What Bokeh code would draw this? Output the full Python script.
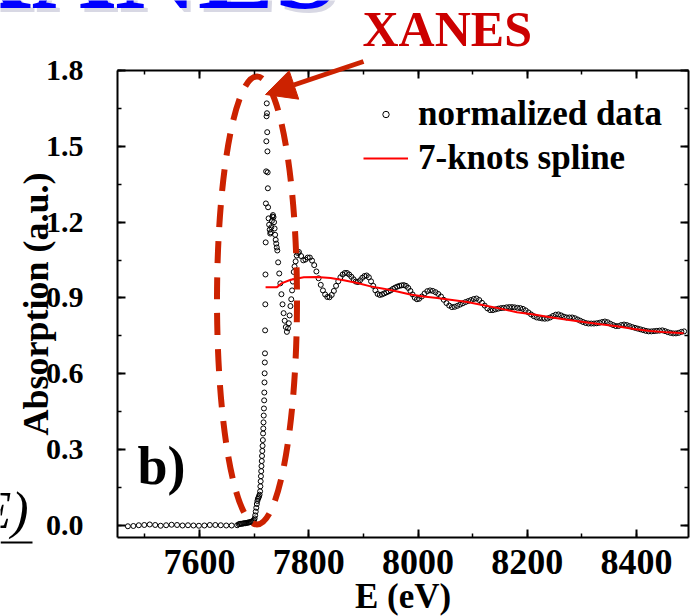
import math
from bokeh.plotting import figure
from bokeh.models import (Range1d, LinearAxis, SingleIntervalTicker, Label, Arrow,
                          NormalHead, Legend, LegendItem, PrintfTickFormatter,
                          ColumnDataSource)
from bokeh.embed import file_html
from bokeh.resources import INLINE

# ---------------- data ----------------
pre_e = [7469, 7479, 7489, 7499, 7509, 7519, 7529, 7539, 7549, 7559, 7569,
         7579, 7589, 7599, 7609, 7619, 7629, 7639, 7649, 7659, 7669]
pre_mu = [-0.003, -0.002, 0.001, 0.002, 0.004, 0.002, -0.001, 0.001, 0.003, 0.002, 0.000,
          0.001, 0.000, -0.001, 0.000, 0.002, 0.002, 0.001, 0.000, 0.000, 0.001]

blob_e = [7672, 7674, 7676, 7678, 7680, 7682, 7684, 7686, 7688, 7690, 7692, 7694, 7696, 7698, 7700]
blob_mu = [0.005, 0.006, 0.007, 0.007, 0.008, 0.009, 0.009, 0.010, 0.011, 0.012, 0.013, 0.014,
           0.016, 0.018, 0.021]

edge_e = [7701, 7702, 7703, 7704, 7705, 7706, 7707, 7708, 7709, 7710, 7711,
          7711.5, 7712, 7712.5, 7713, 7713.5, 7714, 7714.5, 7715, 7715.5, 7716,
          7716.4, 7716.8, 7717.2, 7717.6, 7718, 7718.4,
          7718.7, 7719, 7719.3, 7719.6, 7719.9, 7720.2, 7720.5, 7720.8,
          7721.2, 7721.6, 7722.0, 7722.4, 7722.8, 7723.2, 7723.6, 7724.0, 7724.4, 7724.8, 7725.2, 7725.6,
          7726.5, 7727.5, 7728.5, 7729.5, 7730.5, 7731.5, 7732.5, 7733.5, 7734.5, 7735.5, 7736.5,
          7737.5, 7738.5, 7739.5, 7740.5, 7741.5, 7742.5,
          7744, 7746, 7748, 7750, 7752, 7754, 7756, 7758, 7760, 7762,
          7763.5, 7765, 7766.5, 7768, 7769.5, 7771, 7772.5,
          7774, 7776, 7778, 7780, 7782]
edge_mu = [0.028, 0.040, 0.055, 0.070, 0.085, 0.097, 0.105, 0.110, 0.115, 0.122, 0.135,
           0.155, 0.175, 0.195, 0.215, 0.235, 0.255, 0.275, 0.295, 0.315, 0.338,
           0.364, 0.384, 0.408, 0.435, 0.463, 0.495,
           0.526, 0.566, 0.602, 0.645, 0.681, 0.772, 0.875, 0.993,
           1.120, 1.274, 1.401, 1.520, 1.619, 1.670, 1.631, 1.556, 1.480, 1.397, 1.334, 1.259,
           1.215, 1.190, 1.170, 1.155, 1.160, 1.180, 1.205, 1.222, 1.228, 1.220, 1.200,
           1.175, 1.150, 1.130, 1.115, 1.100, 1.088,
           1.041, 0.997, 0.958, 0.915, 0.875, 0.840, 0.810, 0.785, 0.766, 0.780,
           0.800, 0.831, 0.868, 0.895, 0.930, 0.965, 1.003,
           1.025, 1.045, 1.068, 1.078, 1.082]

exafs_e = [7786, 7790, 7794, 7798, 7802, 7806, 7810, 7814, 7818, 7822,
           7826, 7830, 7834, 7838, 7842, 7846, 7850, 7854, 7858, 7862,
           7866, 7870, 7874, 7878, 7882, 7886, 7890, 7894, 7898, 7902,
           7906, 7910, 7914, 7918, 7922, 7926, 7930, 7934, 7938, 7942,
           7946, 7950, 7954, 7958, 7962, 7966, 7970, 7974, 7978, 7982,
           7986, 7990, 7994, 7998,
           8002, 8007, 8012, 8017, 8022, 8027, 8032, 8037, 8042, 8047,
           8052, 8057, 8062, 8067, 8072, 8077, 8082, 8087, 8092, 8097,
           8102, 8107, 8112, 8117, 8122, 8127, 8132, 8137, 8142, 8147,
           8152, 8157, 8162, 8167, 8172, 8177, 8182, 8187, 8192, 8197,
           8202, 8207, 8212, 8217, 8222, 8227, 8232, 8237, 8242, 8247,
           8252, 8257, 8262, 8267, 8272, 8277, 8282, 8287, 8292, 8297,
           8302, 8307, 8312, 8317, 8322, 8327, 8332, 8337, 8342, 8347,
           8352, 8357, 8362, 8367, 8372, 8377, 8382, 8387, 8392, 8397,
           8402, 8407, 8412, 8417, 8422, 8427, 8432, 8437, 8442, 8447,
           8452, 8457, 8462, 8467, 8472, 8477, 8482, 8487]
exafs_mu = [1.066, 1.049, 1.052, 1.060, 1.060, 1.048, 1.030, 1.005, 0.978, 0.952,
            0.930, 0.914, 0.904, 0.903, 0.912, 0.928, 0.948, 0.966, 0.982, 0.993,
            0.999, 0.999, 0.993, 0.984, 0.974, 0.965, 0.963, 0.970, 0.980, 0.987,
            0.989, 0.982, 0.966, 0.948, 0.930, 0.916, 0.912, 0.914, 0.918, 0.922,
            0.926, 0.930, 0.936, 0.941, 0.945, 0.948, 0.950, 0.951, 0.948, 0.940,
            0.928, 0.914, 0.901, 0.895,
            0.897, 0.906, 0.918, 0.927, 0.930, 0.928, 0.923, 0.916, 0.906, 0.893,
            0.880, 0.870, 0.864, 0.865, 0.869, 0.874, 0.879, 0.884, 0.888, 0.892,
            0.896, 0.898, 0.892, 0.881, 0.870, 0.859, 0.852, 0.852, 0.855, 0.858,
            0.860, 0.861, 0.863, 0.864, 0.864, 0.863, 0.861, 0.860, 0.857, 0.851,
            0.843, 0.835, 0.828, 0.823, 0.821, 0.819, 0.818, 0.819, 0.823, 0.829,
            0.834, 0.835, 0.831, 0.826, 0.823, 0.823, 0.823, 0.820, 0.815, 0.810,
            0.805, 0.801, 0.799, 0.799, 0.799, 0.800, 0.802, 0.805, 0.807, 0.804,
            0.798, 0.793, 0.789, 0.789, 0.793, 0.795, 0.793, 0.789, 0.785, 0.782,
            0.779, 0.776, 0.773, 0.770, 0.768, 0.768, 0.769, 0.770, 0.771, 0.772,
            0.769, 0.765, 0.762, 0.760, 0.760, 0.762, 0.766, 0.768]

spline_e = [7721, 7742, 7751, 7767, 7791, 7815, 7840, 7864, 7889, 7913, 7937, 7962,
            7986, 8010, 8035, 8059, 8090, 8120, 8151, 8181, 8212, 8242, 8273, 8303,
            8334, 8364, 8395, 8425, 8456, 8486]
spline_mu = [0.943, 0.943, 0.959, 0.972, 0.982, 0.983, 0.979, 0.970, 0.959, 0.946, 0.937, 0.926,
             0.914, 0.906, 0.900, 0.893, 0.884, 0.871, 0.858, 0.844, 0.835, 0.824, 0.814, 0.805,
             0.796, 0.788, 0.777, 0.769, 0.764, 0.761]

# axis extents of the framed data box and tick spacing
X0, X1 = 7450, 8495
Y0, Y1 = -0.0475, 1.8
x_tick_interval = 200
y_tick_interval = 0.3

# ---------------- layout geometry ----------------
W, H = 693, 616
BOX_L, BOX_R, BOX_T, BOX_B = 117, 688, 70, 537
sx = (X1 - X0) / (BOX_R - BOX_L)
sy = (Y1 - Y0) / (BOX_B - BOX_T)


def dx(px):
    """screen x (pixels from the left) -> data x"""
    return X0 + (px - BOX_L) * sx


def dy(py):
    """screen y (pixels from the top) -> data y"""
    return Y0 + (BOX_B - py) * sy


SERIF = "Liberation Serif"
RED = "#cc2200"

p = figure(width=W, height=H, output_backend="svg", toolbar_location=None,
           x_range=Range1d(dx(0), dx(W)), y_range=Range1d(dy(H), dy(0)),
           min_border=0, min_border_left=0, min_border_right=0,
           min_border_top=0, min_border_bottom=0,
           background_fill_color="white", border_fill_color="white")
p.xgrid.visible = False
p.ygrid.visible = False
p.outline_line_color = None

xt = SingleIntervalTicker(interval=x_tick_interval, num_minor_ticks=2)
yt = SingleIntervalTicker(interval=y_tick_interval, num_minor_ticks=2)


def style_axis(ax, ticker, bounds, loc, show_labels, font_size="30px", standoff=10):
    ax.ticker = ticker
    ax.bounds = bounds
    ax.fixed_location = loc
    ax.axis_line_width = 2
    ax.axis_line_color = "black"
    ax.major_tick_in = 8
    ax.major_tick_out = 0
    ax.minor_tick_in = 4
    ax.minor_tick_out = 0
    ax.major_tick_line_width = 2
    ax.minor_tick_line_width = 1.5
    ax.major_label_text_font = SERIF
    ax.major_label_text_font_style = "bold"
    if show_labels:
        ax.major_label_text_color = "black"
        ax.major_label_text_font_size = font_size
        ax.major_label_standoff = standoff
    else:
        ax.major_label_text_color = None
        ax.major_label_standoff = 0


bx = p.xaxis[0]
style_axis(bx, xt, (X0, X1), Y0, True, "36px", 12)
bx.axis_label = "E (eV)"
bx.axis_label_text_font = SERIF
bx.axis_label_text_font_style = "bold"
bx.axis_label_text_font_size = "35px"
bx.axis_label_text_color = "black"
bx.axis_label_standoff = 0

ly = p.yaxis[0]
style_axis(ly, yt, (Y0, Y1), X0, True, "30px", 34)
ly.formatter = PrintfTickFormatter(format="%.1f")
ly.axis_label = "Absorption (a.u.)"
ly.axis_label_text_font = SERIF
ly.axis_label_text_font_style = "bold"
ly.axis_label_text_font_size = "36px"
ly.axis_label_text_color = "black"
ly.axis_label_standoff = -13

top_ax = LinearAxis()
style_axis(top_ax, xt, (X0, X1), Y1, False)
p.add_layout(top_ax, "above")
right_ax = LinearAxis()
style_axis(right_ax, yt, (Y0, Y1), X1, False)
p.add_layout(right_ax, "right")

# ---------------- glyphs ----------------
all_e = pre_e + blob_e + edge_e + exafs_e
all_mu = pre_mu + blob_mu + edge_mu + exafs_mu
src = ColumnDataSource(dict(e=all_e, mu=all_mu))
r_data = p.scatter("e", "mu", source=src, marker="circle", size=5,
                   fill_color=None, line_color="black", line_width=1)
r_spline = p.line(spline_e, spline_mu, line_color="#ff0000", line_width=2)

# dashed ellipse marking the XANES region
p.ellipse(x=[dx(256.5)], y=[dy(300)], width=[80 * sx], height=[448 * sy], fill_color=None,
          line_color=RED, line_width=6, line_dash="22 14")

# ---------------- legend ----------------
legend = Legend(items=[LegendItem(label="normalized data", renderers=[r_data]),
                       LegendItem(label="7-knots spline", renderers=[r_spline])],
                location=(363, H - 180), orientation="vertical", padding=0, margin=0,
                spacing=0, glyph_width=45, glyph_height=16, label_height=44,
                label_standoff=10, label_text_font=SERIF, label_text_font_style="bold",
                label_text_font_size="35px", label_text_color="black",
                label_text_baseline="middle", border_line_color=None,
                background_fill_alpha=0)
p.add_layout(legend)

# ---------------- texts / annotations ----------------
p.add_layout(Label(x=dx(137), y=dy(465), text="b)", text_align="left",
                   text_baseline="middle", text_font=SERIF, text_font_style="bold",
                   text_font_size="54px", text_color="black"))
p.add_layout(Label(x=dx(362), y=dy(28), text="XANES", text_align="left",
                   text_baseline="middle", text_font=SERIF, text_font_style="bold",
                   text_font_size="50px", text_color="#cc0000"))
p.add_layout(Arrow(end=NormalHead(size=30, fill_color=RED, line_color=RED),
                   x_start=dx(363), y_start=dy(61), x_end=dx(265), y_end=dy(94),
                   line_color=RED, line_width=5))

# cropped fragments of the surrounding slide
p.add_layout(Label(x=dx(338), y=dy(-31), text="XANES", text_align="right", x_offset=4,
                   y_offset=-4, text_baseline="middle", text_font=SERIF,
                   text_font_style="bold", text_font_size="115px", text_color="#d8d8e4"))
p.add_layout(Label(x=dx(338), y=dy(-31), text="XANES", text_align="right",
                   text_baseline="middle", text_font=SERIF, text_font_style="bold",
                   text_font_size="115px", text_color="#0000ff"))
p.add_layout(Label(x=dx(28), y=dy(510), text="(E)", text_align="right",
                   text_baseline="middle", text_font=SERIF, text_font_style="italic",
                   text_font_size="52px", text_color="black"))
p.add_layout(Arrow(end=None, x_start=dx(0), y_start=dy(542), x_end=dx(32), y_end=dy(542),
                   line_color="black", line_width=2))

open("out.html", "w").write(file_html(p, INLINE))
